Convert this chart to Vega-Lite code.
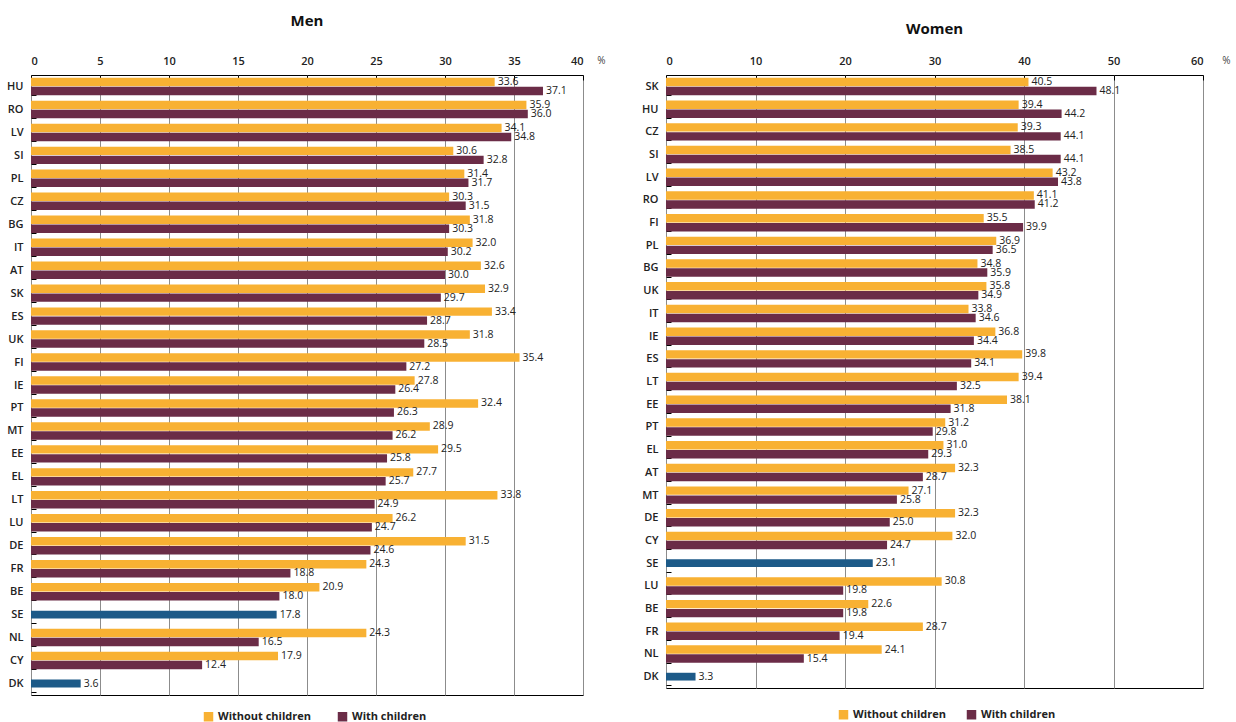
{
  "$schema": "https://vega.github.io/schema/vega-lite/v6.json",
  "background": "white",
  "padding": {"left": 6, "top": 13, "right": 5, "bottom": 2},
  "bounds": "flush",
  "spacing": 83,
  "config": {
    "font": "Open Sans",
    "view": {"stroke": "#000", "strokeWidth": 1},
    "axis": {"labelFont": "Open Sans", "labelColor": "#222", "labelFontSize": 11, "labelFontWeight": 600, "tickColor": "#000", "domain": false}
  },
  "datasets": {
    "men": [
      {"country": "HU", "group": "Without children", "value": 33.6}, {"country": "HU", "group": "With children", "value": 37.1},
      {"country": "RO", "group": "Without children", "value": 35.9}, {"country": "RO", "group": "With children", "value": 36.0},
      {"country": "LV", "group": "Without children", "value": 34.1}, {"country": "LV", "group": "With children", "value": 34.8},
      {"country": "SI", "group": "Without children", "value": 30.6}, {"country": "SI", "group": "With children", "value": 32.8},
      {"country": "PL", "group": "Without children", "value": 31.4}, {"country": "PL", "group": "With children", "value": 31.7},
      {"country": "CZ", "group": "Without children", "value": 30.3}, {"country": "CZ", "group": "With children", "value": 31.5},
      {"country": "BG", "group": "Without children", "value": 31.8}, {"country": "BG", "group": "With children", "value": 30.3},
      {"country": "IT", "group": "Without children", "value": 32.0}, {"country": "IT", "group": "With children", "value": 30.2},
      {"country": "AT", "group": "Without children", "value": 32.6}, {"country": "AT", "group": "With children", "value": 30.0},
      {"country": "SK", "group": "Without children", "value": 32.9}, {"country": "SK", "group": "With children", "value": 29.7},
      {"country": "ES", "group": "Without children", "value": 33.4}, {"country": "ES", "group": "With children", "value": 28.7},
      {"country": "UK", "group": "Without children", "value": 31.8}, {"country": "UK", "group": "With children", "value": 28.5},
      {"country": "FI", "group": "Without children", "value": 35.4}, {"country": "FI", "group": "With children", "value": 27.2},
      {"country": "IE", "group": "Without children", "value": 27.8}, {"country": "IE", "group": "With children", "value": 26.4},
      {"country": "PT", "group": "Without children", "value": 32.4}, {"country": "PT", "group": "With children", "value": 26.3},
      {"country": "MT", "group": "Without children", "value": 28.9}, {"country": "MT", "group": "With children", "value": 26.2},
      {"country": "EE", "group": "Without children", "value": 29.5}, {"country": "EE", "group": "With children", "value": 25.8},
      {"country": "EL", "group": "Without children", "value": 27.7}, {"country": "EL", "group": "With children", "value": 25.7},
      {"country": "LT", "group": "Without children", "value": 33.8}, {"country": "LT", "group": "With children", "value": 24.9},
      {"country": "LU", "group": "Without children", "value": 26.2}, {"country": "LU", "group": "With children", "value": 24.7},
      {"country": "DE", "group": "Without children", "value": 31.5}, {"country": "DE", "group": "With children", "value": 24.6},
      {"country": "FR", "group": "Without children", "value": 24.3}, {"country": "FR", "group": "With children", "value": 18.8},
      {"country": "BE", "group": "Without children", "value": 20.9}, {"country": "BE", "group": "With children", "value": 18.0},
      {"country": "SE", "group": "Total", "value": 17.8},
      {"country": "NL", "group": "Without children", "value": 24.3}, {"country": "NL", "group": "With children", "value": 16.5},
      {"country": "CY", "group": "Without children", "value": 17.9}, {"country": "CY", "group": "With children", "value": 12.4},
      {"country": "DK", "group": "Total", "value": 3.6}
    ],
    "women": [
      {"country": "SK", "group": "Without children", "value": 40.5}, {"country": "SK", "group": "With children", "value": 48.1},
      {"country": "HU", "group": "Without children", "value": 39.4}, {"country": "HU", "group": "With children", "value": 44.2},
      {"country": "CZ", "group": "Without children", "value": 39.3}, {"country": "CZ", "group": "With children", "value": 44.1},
      {"country": "SI", "group": "Without children", "value": 38.5}, {"country": "SI", "group": "With children", "value": 44.1},
      {"country": "LV", "group": "Without children", "value": 43.2}, {"country": "LV", "group": "With children", "value": 43.8},
      {"country": "RO", "group": "Without children", "value": 41.1}, {"country": "RO", "group": "With children", "value": 41.2},
      {"country": "FI", "group": "Without children", "value": 35.5}, {"country": "FI", "group": "With children", "value": 39.9},
      {"country": "PL", "group": "Without children", "value": 36.9}, {"country": "PL", "group": "With children", "value": 36.5},
      {"country": "BG", "group": "Without children", "value": 34.8}, {"country": "BG", "group": "With children", "value": 35.9},
      {"country": "UK", "group": "Without children", "value": 35.8}, {"country": "UK", "group": "With children", "value": 34.9},
      {"country": "IT", "group": "Without children", "value": 33.8}, {"country": "IT", "group": "With children", "value": 34.6},
      {"country": "IE", "group": "Without children", "value": 36.8}, {"country": "IE", "group": "With children", "value": 34.4},
      {"country": "ES", "group": "Without children", "value": 39.8}, {"country": "ES", "group": "With children", "value": 34.1},
      {"country": "LT", "group": "Without children", "value": 39.4}, {"country": "LT", "group": "With children", "value": 32.5},
      {"country": "EE", "group": "Without children", "value": 38.1}, {"country": "EE", "group": "With children", "value": 31.8},
      {"country": "PT", "group": "Without children", "value": 31.2}, {"country": "PT", "group": "With children", "value": 29.8},
      {"country": "EL", "group": "Without children", "value": 31.0}, {"country": "EL", "group": "With children", "value": 29.3},
      {"country": "AT", "group": "Without children", "value": 32.3}, {"country": "AT", "group": "With children", "value": 28.7},
      {"country": "MT", "group": "Without children", "value": 27.1}, {"country": "MT", "group": "With children", "value": 25.8},
      {"country": "DE", "group": "Without children", "value": 32.3}, {"country": "DE", "group": "With children", "value": 25.0},
      {"country": "CY", "group": "Without children", "value": 32.0}, {"country": "CY", "group": "With children", "value": 24.7},
      {"country": "SE", "group": "Total", "value": 23.1},
      {"country": "LU", "group": "Without children", "value": 30.8}, {"country": "LU", "group": "With children", "value": 19.8},
      {"country": "BE", "group": "Without children", "value": 22.6}, {"country": "BE", "group": "With children", "value": 19.8},
      {"country": "FR", "group": "Without children", "value": 28.7}, {"country": "FR", "group": "With children", "value": 19.4},
      {"country": "NL", "group": "Without children", "value": 24.1}, {"country": "NL", "group": "With children", "value": 15.4},
      {"country": "DK", "group": "Total", "value": 3.3}
    ]
  },
  "hconcat": [
    {
      "width": 552,
      "height": 620,
      "title": {"text": "Men", "fontSize": 15, "fontWeight": "bold", "font": "Open Sans", "color": "#111", "offset": 26, "anchor": "middle"},
      "data": {"name": "men"},
      "encoding": {
        "y": {"field": "country", "type": "nominal", "title": null,
              "scale": {"domain": ["HU","RO","LV","SI","PL","CZ","BG","IT","AT","SK","ES","UK","FI","IE","PT","MT","EE","EL","LT","LU","DE","FR","BE","SE","NL","CY","DK"], "paddingInner": 0.24, "paddingOuter": 0.12},
              "axis": {"tickBand": "extent", "tickSize": -5, "labelPadding": 13, "labelFontSize": 11}},
        "x": {"field": "value", "type": "quantitative", "title": "%",
              "scale": {"domain": [0, 40], "nice": false},
              "axis": {"orient": "top", "values": [0, 5, 10, 15, 20, 25, 30, 35, 40], "grid": true, "gridColor": "#8c8c8c", "gridWidth": 1,
                       "tickSize": -5, "labelPadding": 14, "labelFontSize": 11,
                       "titleX": 570, "titleY": -15, "titleBaseline": "middle", "titleAlign": "center", "titleFontWeight": "normal", "titleFontSize": 10, "titleColor": "#444"}}
      },
      "layer": [
        {
          "transform": [{"filter": "datum.group !== 'Total'"}],
          "mark": {"type": "bar"},
          "encoding": {
            "yOffset": {"field": "group", "type": "nominal", "sort": ["Without children", "With children"], "scale": {"paddingInner": 0.06}},
            "color": {"field": "group", "type": "nominal",
                      "scale": {"domain": ["Without children", "With children", "Total"], "range": ["#F8B133", "#6B2C47", "#1D5A88"]},
                      "legend": {"orient": "none", "legendX": 172, "legendY": 636, "direction": "horizontal", "title": null,
                                 "values": ["Without children", "With children"], "symbolType": "square", "symbolSize": 90,
                                 "labelFontSize": 11, "labelFontWeight": "bold", "labelColor": "#222", "columnPadding": 26}}
          }
        },
        {
          "transform": [{"filter": "datum.group === 'Total'"}],
          "mark": {"type": "bar", "height": {"band": 0.45}},
          "encoding": {
            "color": {"field": "group", "type": "nominal"}
          }
        },
        {
          "transform": [{"filter": "datum.group !== 'Total'"}],
          "mark": {"type": "text", "align": "left", "baseline": "middle", "dx": 3, "fontSize": 10.5, "color": "#222"},
          "encoding": {
            "yOffset": {"field": "group", "type": "nominal", "sort": ["Without children", "With children"], "scale": {"paddingInner": 0.06}},
            "text": {"field": "value", "type": "quantitative", "format": ".1f"}
          }
        },
        {
          "transform": [{"filter": "datum.group === 'Total'"}],
          "mark": {"type": "text", "align": "left", "baseline": "middle", "dx": 3, "fontSize": 10.5, "color": "#222"},
          "encoding": {
            "text": {"field": "value", "type": "quantitative", "format": ".1f"}
          }
        }
      ]
    },
    {
      "width": 537,
      "height": 613,
      "title": {"text": "Women", "fontSize": 15, "fontWeight": "bold", "font": "Open Sans", "color": "#111", "offset": 18, "anchor": "middle"},
      "data": {"name": "women"},
      "encoding": {
        "y": {"field": "country", "type": "nominal", "title": null,
              "scale": {"domain": ["SK","HU","CZ","SI","LV","RO","FI","PL","BG","UK","IT","IE","ES","LT","EE","PT","EL","AT","MT","DE","CY","SE","LU","BE","FR","NL","DK"], "paddingInner": 0.24, "paddingOuter": 0.12},
              "axis": {"tickBand": "extent", "tickSize": -5, "labelPadding": 13, "labelFontSize": 11}},
        "x": {"field": "value", "type": "quantitative", "title": "%",
              "scale": {"domain": [0, 60], "nice": false},
              "axis": {"orient": "top", "values": [0, 10, 20, 30, 40, 50, 60], "grid": true, "gridColor": "#8c8c8c", "gridWidth": 1,
                       "tickSize": -5, "labelPadding": 14, "labelFontSize": 11,
                       "titleX": 560, "titleY": -15, "titleBaseline": "middle", "titleAlign": "center", "titleFontWeight": "normal", "titleFontSize": 10, "titleColor": "#444"}}
      },
      "layer": [
        {
          "transform": [{"filter": "datum.group !== 'Total'"}],
          "mark": {"type": "bar"},
          "encoding": {
            "yOffset": {"field": "group", "type": "nominal", "sort": ["Without children", "With children"], "scale": {"paddingInner": 0.06}},
            "color": {"field": "group", "type": "nominal",
                      "scale": {"domain": ["Without children", "With children", "Total"], "range": ["#F8B133", "#6B2C47", "#1D5A88"]},
                      "legend": {"orient": "none", "legendX": 172, "legendY": 634, "direction": "horizontal", "title": null,
                                 "values": ["Without children", "With children"], "symbolType": "square", "symbolSize": 90,
                                 "labelFontSize": 11, "labelFontWeight": "bold", "labelColor": "#222", "columnPadding": 20}}
          }
        },
        {
          "transform": [{"filter": "datum.group === 'Total'"}],
          "mark": {"type": "bar", "height": {"band": 0.45}},
          "encoding": {
            "color": {"field": "group", "type": "nominal"}
          }
        },
        {
          "transform": [{"filter": "datum.group !== 'Total'"}],
          "mark": {"type": "text", "align": "left", "baseline": "middle", "dx": 3, "fontSize": 10.5, "color": "#222"},
          "encoding": {
            "yOffset": {"field": "group", "type": "nominal", "sort": ["Without children", "With children"], "scale": {"paddingInner": 0.06}},
            "text": {"field": "value", "type": "quantitative", "format": ".1f"}
          }
        },
        {
          "transform": [{"filter": "datum.group === 'Total'"}],
          "mark": {"type": "text", "align": "left", "baseline": "middle", "dx": 3, "fontSize": 10.5, "color": "#222"},
          "encoding": {
            "text": {"field": "value", "type": "quantitative", "format": ".1f"}
          }
        }
      ]
    }
  ],
  "resolve": {"scale": {"color": "independent"}}
}
